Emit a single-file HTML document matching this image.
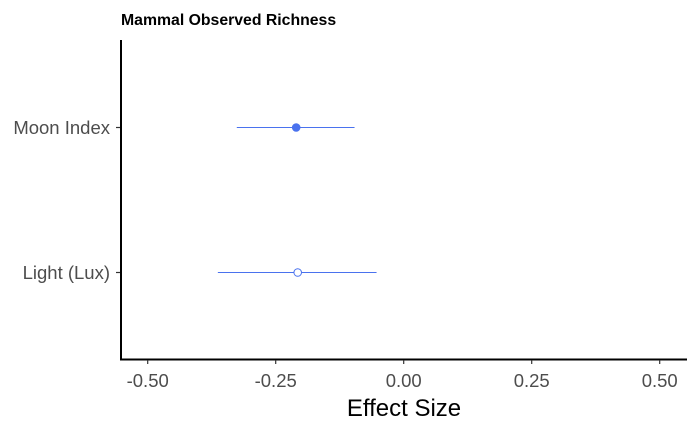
<!DOCTYPE html>
<html><head><meta charset="utf-8"><style>
body{margin:0;background:#fff;}
svg{display:block;font-family:"Liberation Sans",Arial,sans-serif;}
</style></head><body>
<svg id="chart" width="700" height="432" viewBox="0 0 700 432" xmlns="http://www.w3.org/2000/svg">
<text x="121" y="25" font-size="15.8" font-weight="bold" fill="#000">Mammal Observed Richness</text>
<g id="plot"></g>
<text x="404" y="416" font-size="24" text-anchor="middle" fill="#000">Effect Size</text>
</svg>
<script>
const categories = ["Moon Index", "Light (Lux)"];
const estimates = [-0.210, -0.207];
const lower = [-0.326, -0.363];
const upper = [-0.096, -0.053];
const filled = [true, false];
const xTicks = [-0.5, -0.25, 0, 0.25, 0.5];
const xTickLabels = ["-0.50", "-0.25", "0.00", "0.25", "0.50"];

const NS = "http://www.w3.org/2000/svg";
const g = document.getElementById('plot');
const x = v => 403.7 + v * 512;
const y = i => [127.5, 272.5][i];
const col = "#4a72ee";
function mk(tag, attrs){const e=document.createElementNS(NS,tag);for(const k in attrs)e.setAttribute(k,attrs[k]);g.appendChild(e);return e;}

let yAxis = mk('line',{x1:121,y1:40,x2:121,y2:360,stroke:'#000','stroke-width':2});


let xAxis = mk('line',{x1:120,y1:359.5,x2:687,y2:359.5,stroke:'#000','stroke-width':2});



xTicks.forEach((t,i)=>{
  const tk = mk('line',{x1:x(t),y1:360,x2:x(t),y2:364,stroke:'#333','stroke-width':1.2});
  
  
  const lb = mk('text',{x:x(t),y:387,'font-size':18.5,'text-anchor':'middle',fill:'#4d4d4d'});
  lb.textContent = xTickLabels[i];
  
  
});

categories.forEach((c,i)=>{
  const tk = mk('line',{x1:116,y1:y(i),x2:120,y2:y(i),stroke:'#333','stroke-width':1.2});
  
  
  const lb = mk('text',{x:110,y:y(i)+6.5,'font-size':18.5,'text-anchor':'end',fill:'#4d4d4d'});
  lb.textContent = c;
  
  
  const eb = mk('line',{x1:x(lower[i]),y1:y(i),x2:x(upper[i]),y2:y(i),stroke:col,'stroke-width':1});
  
  
  const pt = mk('circle',{cx:x(estimates[i]),cy:y(i),r:filled[i]?4.3:3.8,fill:filled[i]?col:'#fff',stroke:col,'stroke-width':filled[i]?0:1});
  
  
});
</script>
</body></html>
